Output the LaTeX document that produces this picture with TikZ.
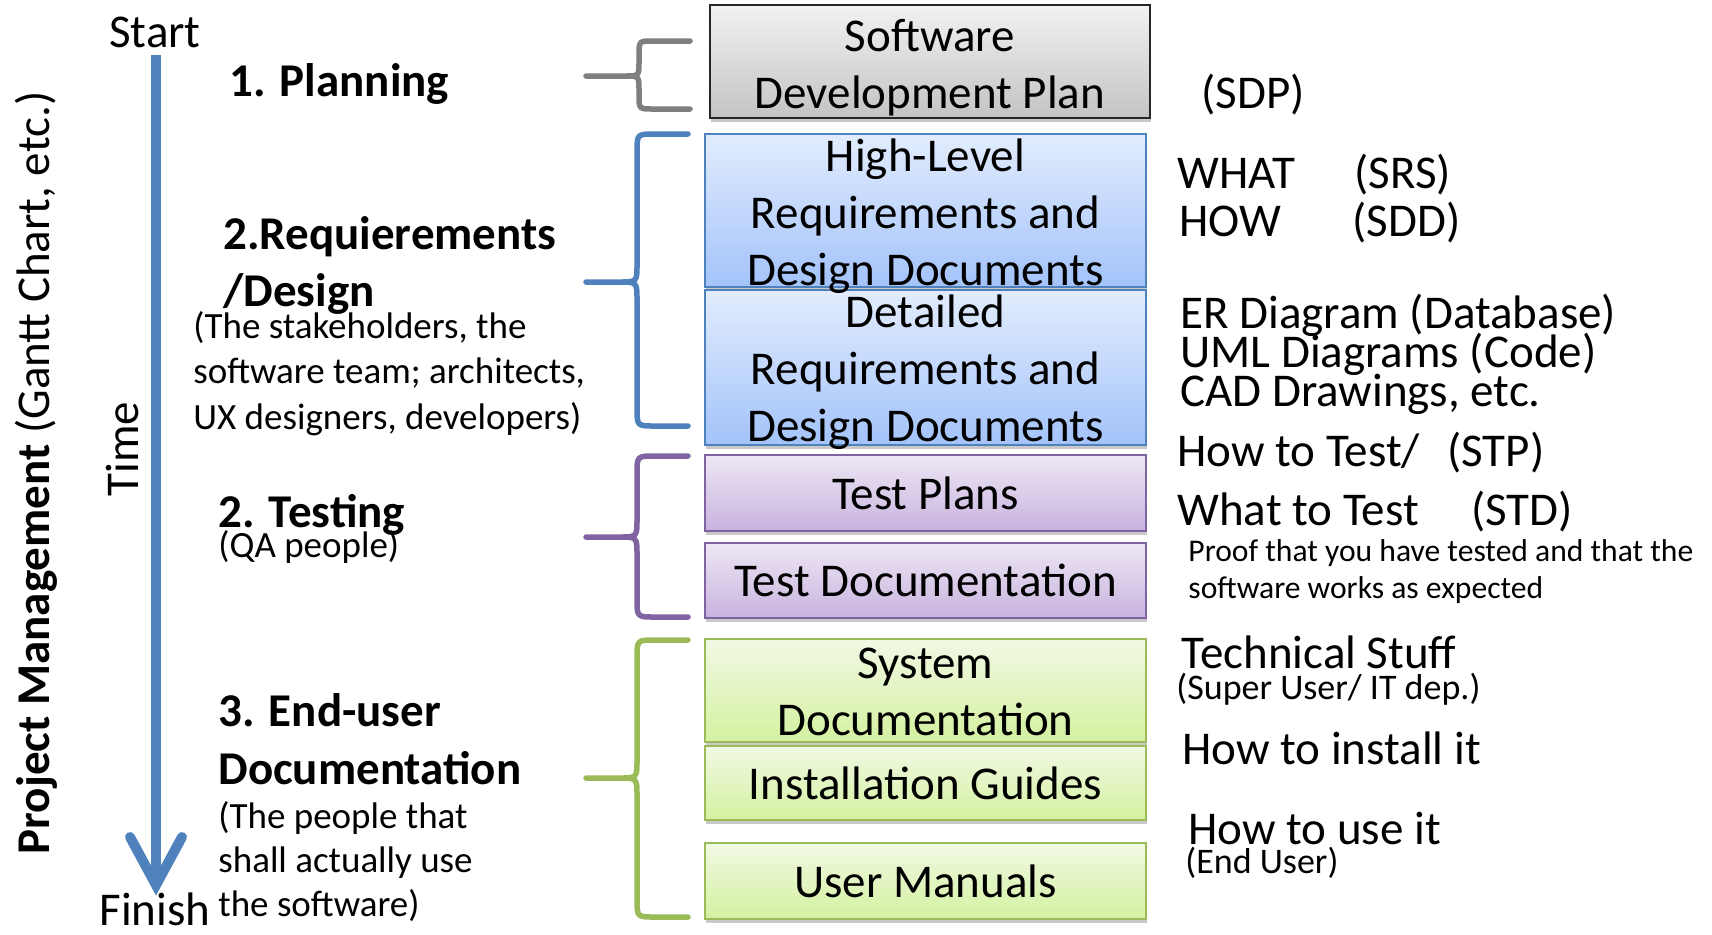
\documentclass[tikz,border=0pt]{standalone}
\usepackage{fontspec}
\setmainfont{Carlito}
\usetikzlibrary{shadows,calc}
\definecolor{bgray}{HTML}{7F7F7F}
\definecolor{bblue}{HTML}{4F81BD}
\definecolor{bpurple}{HTML}{8064A2}
\definecolor{bgreen}{HTML}{9BBB59}
\definecolor{sdpTop}{HTML}{F2F2F2}
\definecolor{sdpBot}{HTML}{C3C3C3}
\definecolor{blueTop}{HTML}{E2ECFD}
\definecolor{blueBot}{HTML}{A3C3FA}
\definecolor{purpTop}{HTML}{EEE7F5}
\definecolor{purpBot}{HTML}{C7B3DE}
\definecolor{greenTop}{HTML}{F1F9E4}
\definecolor{greenBot}{HTML}{D4F1A0}
\newcommand{\mybrace}[8]{%
  \draw[bracestyle,#1] (#2,#5) -- (#3+#8,#5) .. controls (#3,#5) .. (#3,#5+#8)
    -- (#3,#6-#8) .. controls (#3,#6) .. (#3-#8,#6) -- (#4,#6)
    -- (#3-#8,#6) .. controls (#3,#6) .. (#3,#6+#8)
    -- (#3,#7-#8) .. controls (#3,#7) .. (#3+#8,#7) -- (#2,#7);}
\begin{document}
\begin{tikzpicture}[x=0.5pt,y=-0.5pt,
  bigfont/.style={font=\fontsize{23.5}{28.4}\selectfont},
  smallfont/.style={font=\fontsize{18.5}{22.75}\selectfont},
  bracestyle/.style={line width=2.75pt,line join=round,line cap=round},
  box/.style={line width=1pt,inner sep=0pt,minimum width=220.5pt,bigfont,
    drop shadow={shadow xshift=0.6pt,shadow yshift=-2pt,opacity=0.3,fill=black!70}},
  sdpbox/.style={box,draw=black!85,top color=sdpTop,bottom color=sdpBot},
  bluebox/.style={box,draw=bblue,top color=blueTop,bottom color=blueBot},
  purpbox/.style={box,draw=bpurple,top color=purpTop,bottom color=purpBot},
  greenbox/.style={box,draw=bgreen,top color=greenTop,bottom color=greenBot},
  boxtext/.style={bigfont,align=center,inner sep=0pt,anchor=base},
  lt/.style={inner sep=0pt,anchor=base west,align=left},
  timeline/.style={draw=bblue,line width=5pt}]
\useasboundingbox (0,0) rectangle (1712,934);

% boxes
\node[sdpbox,minimum width=220pt,minimum height=56.5pt] (sdp) at (930,61.5) {};
\node[bluebox,minimum height=76.5pt] (hl) at (925.5,210.5) {};
\node[bluebox,minimum height=77.5pt] (det) at (925.5,367.5) {};
\node[purpbox,minimum height=38pt] (tp) at (925.5,493) {Test Plans};
\node[purpbox,minimum height=37.5pt] (td) at (925.5,580.5) {Test Documentation};
\node[greenbox,minimum height=51.5pt] (sys) at (925.5,690.5) {};
\node[greenbox,minimum height=37pt] (inst) at (925.5,783) {Installation Guides};
\node[greenbox,minimum height=38pt] (um) at (925.5,881) {User Manuals};

% multi-line nodes: base anchor = baseline of the last line
\node[boxtext] (sdpT) at (930,108) {Software\\Development Plan};
\node[boxtext] (hlT) at (925.5,285) {High-Level\\Requirements and\\Design Documents};
\node[boxtext] (detT) at (925.5,441) {Detailed\\Requirements and\\Design Documents};
\node[boxtext] (sysT) at (925.5,735) {System\\Documentation};

% braces
\mybrace{bgray}{690}{639}{586}{41}{76}{109}{14}
\mybrace{bblue}{688}{637}{586}{134}{282}{426}{18}
\mybrace{bpurple}{688}{637}{586}{456}{537}{617}{18}
\mybrace{bgreen}{688}{637}{586}{640}{778}{917}{18}

% time axis
\node[bigfont,anchor=base,inner sep=0pt] (start) at (155,47) {Start};
\node[bigfont,anchor=base,inner sep=0pt] (finish) at (155,925) {Finish};
\coordinate (atop) at (156,55);
\coordinate (abot) at (156,885);
\draw[timeline] (atop) -- (abot);
\draw[timeline,line join=miter,line cap=round] ($(abot)+(-26,-48)$) -- (abot) -- ($(abot)+(26,-48)$);
\node[bigfont,rotate=90,anchor=base,inner sep=0pt] (time) at (138,449) {Time};
\node[bigfont,rotate=90,anchor=base,inner sep=0pt] (pm) at (49,473) {\textbf{Project Management} (Gantt Chart, etc.)};

% left texts
\node[lt,font=\fontsize{23.5}{28.5}\selectfont\bfseries] (plan) at (229,96) {1. Planning};
\node[lt,font=\fontsize{23.5}{28.5}\selectfont\bfseries] (req) at (223,306) {2.Requierements\\/Design};
\node[lt,smallfont] (stake) at (193,429) {(The stakeholders, the\\software team; architects,\\UX designers, developers)};
\node[lt,font=\fontsize{23.5}{28.5}\selectfont\bfseries] (testing) at (218,527) {2. Testing};
\node[lt,smallfont] (qa) at (218,557) {(QA people)};
\node[lt,font=\fontsize{23.5}{29}\selectfont\bfseries] (enduser) at (218,784) {3. End-user\\Documentation};
\node[lt,font=\fontsize{18.5}{22}\selectfont] (people) at (218,916) {(The people that\\shall actually use\\the software)};

% right texts
\node[lt,bigfont] (sdpA) at (1201,108) {(SDP)};
\node[lt,bigfont] (what) at (1177,188) {WHAT};
\node[lt,bigfont] (srs) at (1354,188) {(SRS)};
\node[lt,bigfont] (how) at (1179,236) {HOW};
\node[lt,bigfont] (sdd) at (1352,236) {(SDD)};
\node[lt,bigfont] (er) at (1180,328) {ER Diagram (Database)};
\node[lt,bigfont] (uml) at (1180,367) {UML Diagrams (Code)};
\node[lt,bigfont] (cad) at (1180,406) {CAD Drawings, etc.};
\node[lt,bigfont] (howtest) at (1177,466) {How to Test/};
\node[lt,bigfont] (stp) at (1447,466) {(STP)};
\node[lt,bigfont] (whattest) at (1177,525) {What to Test};
\node[lt,bigfont] (std) at (1471,525) {(STD)};
\node[lt,font=\fontsize{15.8}{18.5}\selectfont] (proof) at (1188,598) {Proof that you have tested and that the\\software works as expected};
\node[lt,bigfont] (tech) at (1181,668) {Technical Stuff};
\node[lt,font=\fontsize{18}{22}\selectfont] (super) at (1176,699) {(Super User/ IT dep.)};
\node[lt,bigfont] (install) at (1182,764) {How to install it};
\node[lt,bigfont] (use) at (1188,844) {How to use it};
\node[lt,font=\fontsize{18}{22}\selectfont] (enduserR) at (1185,873) {(End User)};
\end{tikzpicture}
\end{document}
